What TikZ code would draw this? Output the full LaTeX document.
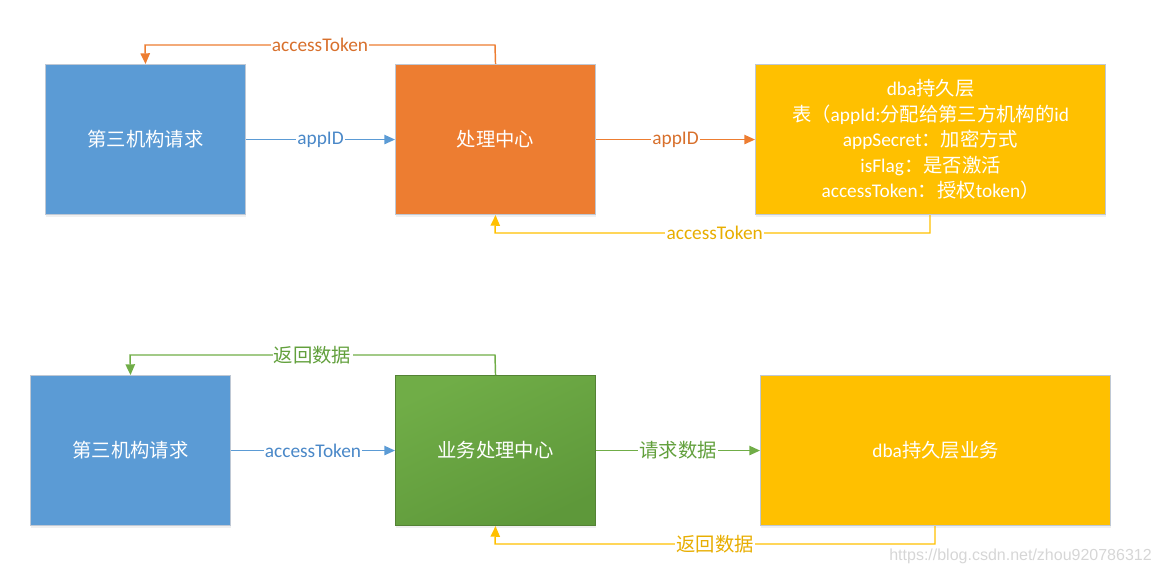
\documentclass[tikz,border=0pt]{standalone}
\usepackage{fontspec}
\setmainfont{Carlito}
\newfontfamily\cjk{Noto Sans CJK SC}
\newfontfamily\wmfont{Liberation Sans}
\usetikzlibrary{arrows.meta,shadows}
\definecolor{cblue}{HTML}{5B9BD5}
\definecolor{corange}{HTML}{ED7D31}
\definecolor{cyellow}{HTML}{FFC000}
\definecolor{cgreenA}{HTML}{70AD47}
\definecolor{cgreenB}{HTML}{5E983A}
\definecolor{cgreenE}{HTML}{548235}
\definecolor{tblue}{HTML}{4A88C8}
\definecolor{torange}{HTML}{D8702C}
\definecolor{tyellow}{HTML}{E8AE00}
\definecolor{tgreen}{HTML}{62A03C}
\definecolor{cedge}{HTML}{BFC8D4}
\begin{document}
\begin{tikzpicture}[x=0.75pt,y=-0.75pt,
  box/.style={draw=cedge,line width=0.8pt,minimum width=150pt,minimum height=112.5pt,inner sep=0pt,text=white,font=\fontsize{14.5}{19.2}\selectfont,align=center,
    drop shadow={opacity=0.12,shadow xshift=0pt,shadow yshift=-2pt}},
  widebox/.style={box,minimum width=262.5pt},
  conn/.style={line width=1.1pt,-{Triangle[length=8pt,width=7pt]}},
  lab/.style={fill=white,inner sep=1pt,font=\fontsize{14.5}{17}\selectfont}]
\useasboundingbox (0,0) rectangle (1162,575);
% top row
\node[box,fill=cblue,anchor=north west] (a1) at (45,64) {\cjk 第三机构请求};
\node[box,fill=corange,anchor=north west] (b1) at (395,64) {\cjk 处理中心};
\node[widebox,fill=cyellow,anchor=north west] (c1) at (755,64) {dba{\cjk 持久层}\\{\cjk 表（}appId:{\cjk 分配给第三方机构的}id\\appSecret{\cjk ：加密方式}\\isFlag{\cjk ：是否激活}\\accessToken{\cjk ：授权}token{\cjk ）}};
% bottom row
\node[box,fill=cblue,anchor=north west] (a2) at (30,375) {\cjk 第三机构请求};
\node[box,draw=cgreenE,top color=cgreenA,bottom color=cgreenB,shading angle=25,anchor=north west] (b2) at (395,375) {\cjk 业务处理中心};
\node[widebox,fill=cyellow,anchor=north west] (c2) at (760,375) {dba{\cjk 持久层业务}};
% coordinates for routed connectors
\coordinate (t1) at (495,45);
\coordinate (t2) at (145,45);
\coordinate (u1) at (930,233);
\coordinate (u2) at (495,233);
\coordinate (v1) at (495,355);
\coordinate (v2) at (130,355);
\coordinate (w1) at (935,544);
\coordinate (w2) at (495,544);
% top connectors
\draw[conn,cblue] (a1.east) -- node[lab,text=tblue,pos=0.5]{appID} (b1.west);
\draw[conn,corange] (b1.east) -- node[lab,text=torange,pos=0.5]{appID} (c1.west);
\draw[conn,corange] (b1.north) -- (t1) -- node[lab,text=torange,pos=0.5]{accessToken} (t2) -- (a1.north);
\draw[conn,cyellow] (c1.south -| u1) -- (u1) -- node[lab,text=tyellow,pos=0.495]{accessToken} (u2) -- (b1.south);
% bottom connectors
\draw[conn,cblue] (a2.east) -- node[lab,text=tblue,pos=0.5]{accessToken} (b2.west);
\draw[conn,cgreenA] (b2.east) -- node[lab,text=tgreen,pos=0.5]{\cjk 请求数据} (c2.west);
\draw[conn,cgreenA] (b2.north) -- (v1) -- node[lab,text=tgreen,pos=0.5]{\cjk 返回数据} (v2) -- (a2.north);
\draw[conn,cyellow] (c2.south -| w1) -- (w1) -- node[lab,text=tyellow,pos=0.5]{\cjk 返回数据} (w2) -- (b2.south);
% watermark
\node[anchor=east,text=black!16,font=\wmfont\fontsize{12}{14}\selectfont,inner sep=0pt] (wm) at (1152,556) {https://blog.csdn.net/zhou920786312};
\end{tikzpicture}
\end{document}
